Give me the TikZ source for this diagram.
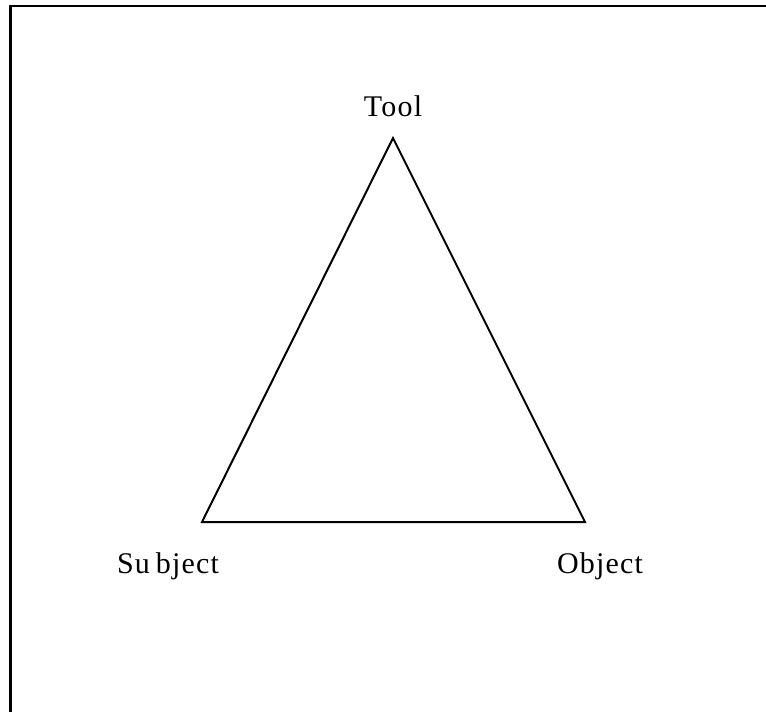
\documentclass[tikz,border=0pt]{standalone}
\usepackage{fontspec}
\newfontfamily\labfont[LetterSpace=4]{Liberation Serif}
\begin{document}
\begin{tikzpicture}[x=1pt,y=-1pt,
  lab/.style={font=\labfont\fontsize{30}{36}\selectfont, inner sep=0pt, anchor=base},
  edge/.style={line width=2pt, line join=miter}]
\useasboundingbox (0,0) rectangle (766,712);
\draw[line width=2.2pt] (10.5,730) -- (10.5,6) -- (780,6);
\coordinate (t) at (393,138);
\coordinate (s) at (202,522);
\coordinate (o) at (585,522);
\draw[edge] (t) -- (s) -- (o) -- cycle;
\node[lab] (tool) at (393,116) {Tool};
\node[lab] (subj) at (168,573) {Su\hspace{6pt}bject};
\node[lab] (obj) at (600,573) {Object};
\end{tikzpicture}
\end{document}
